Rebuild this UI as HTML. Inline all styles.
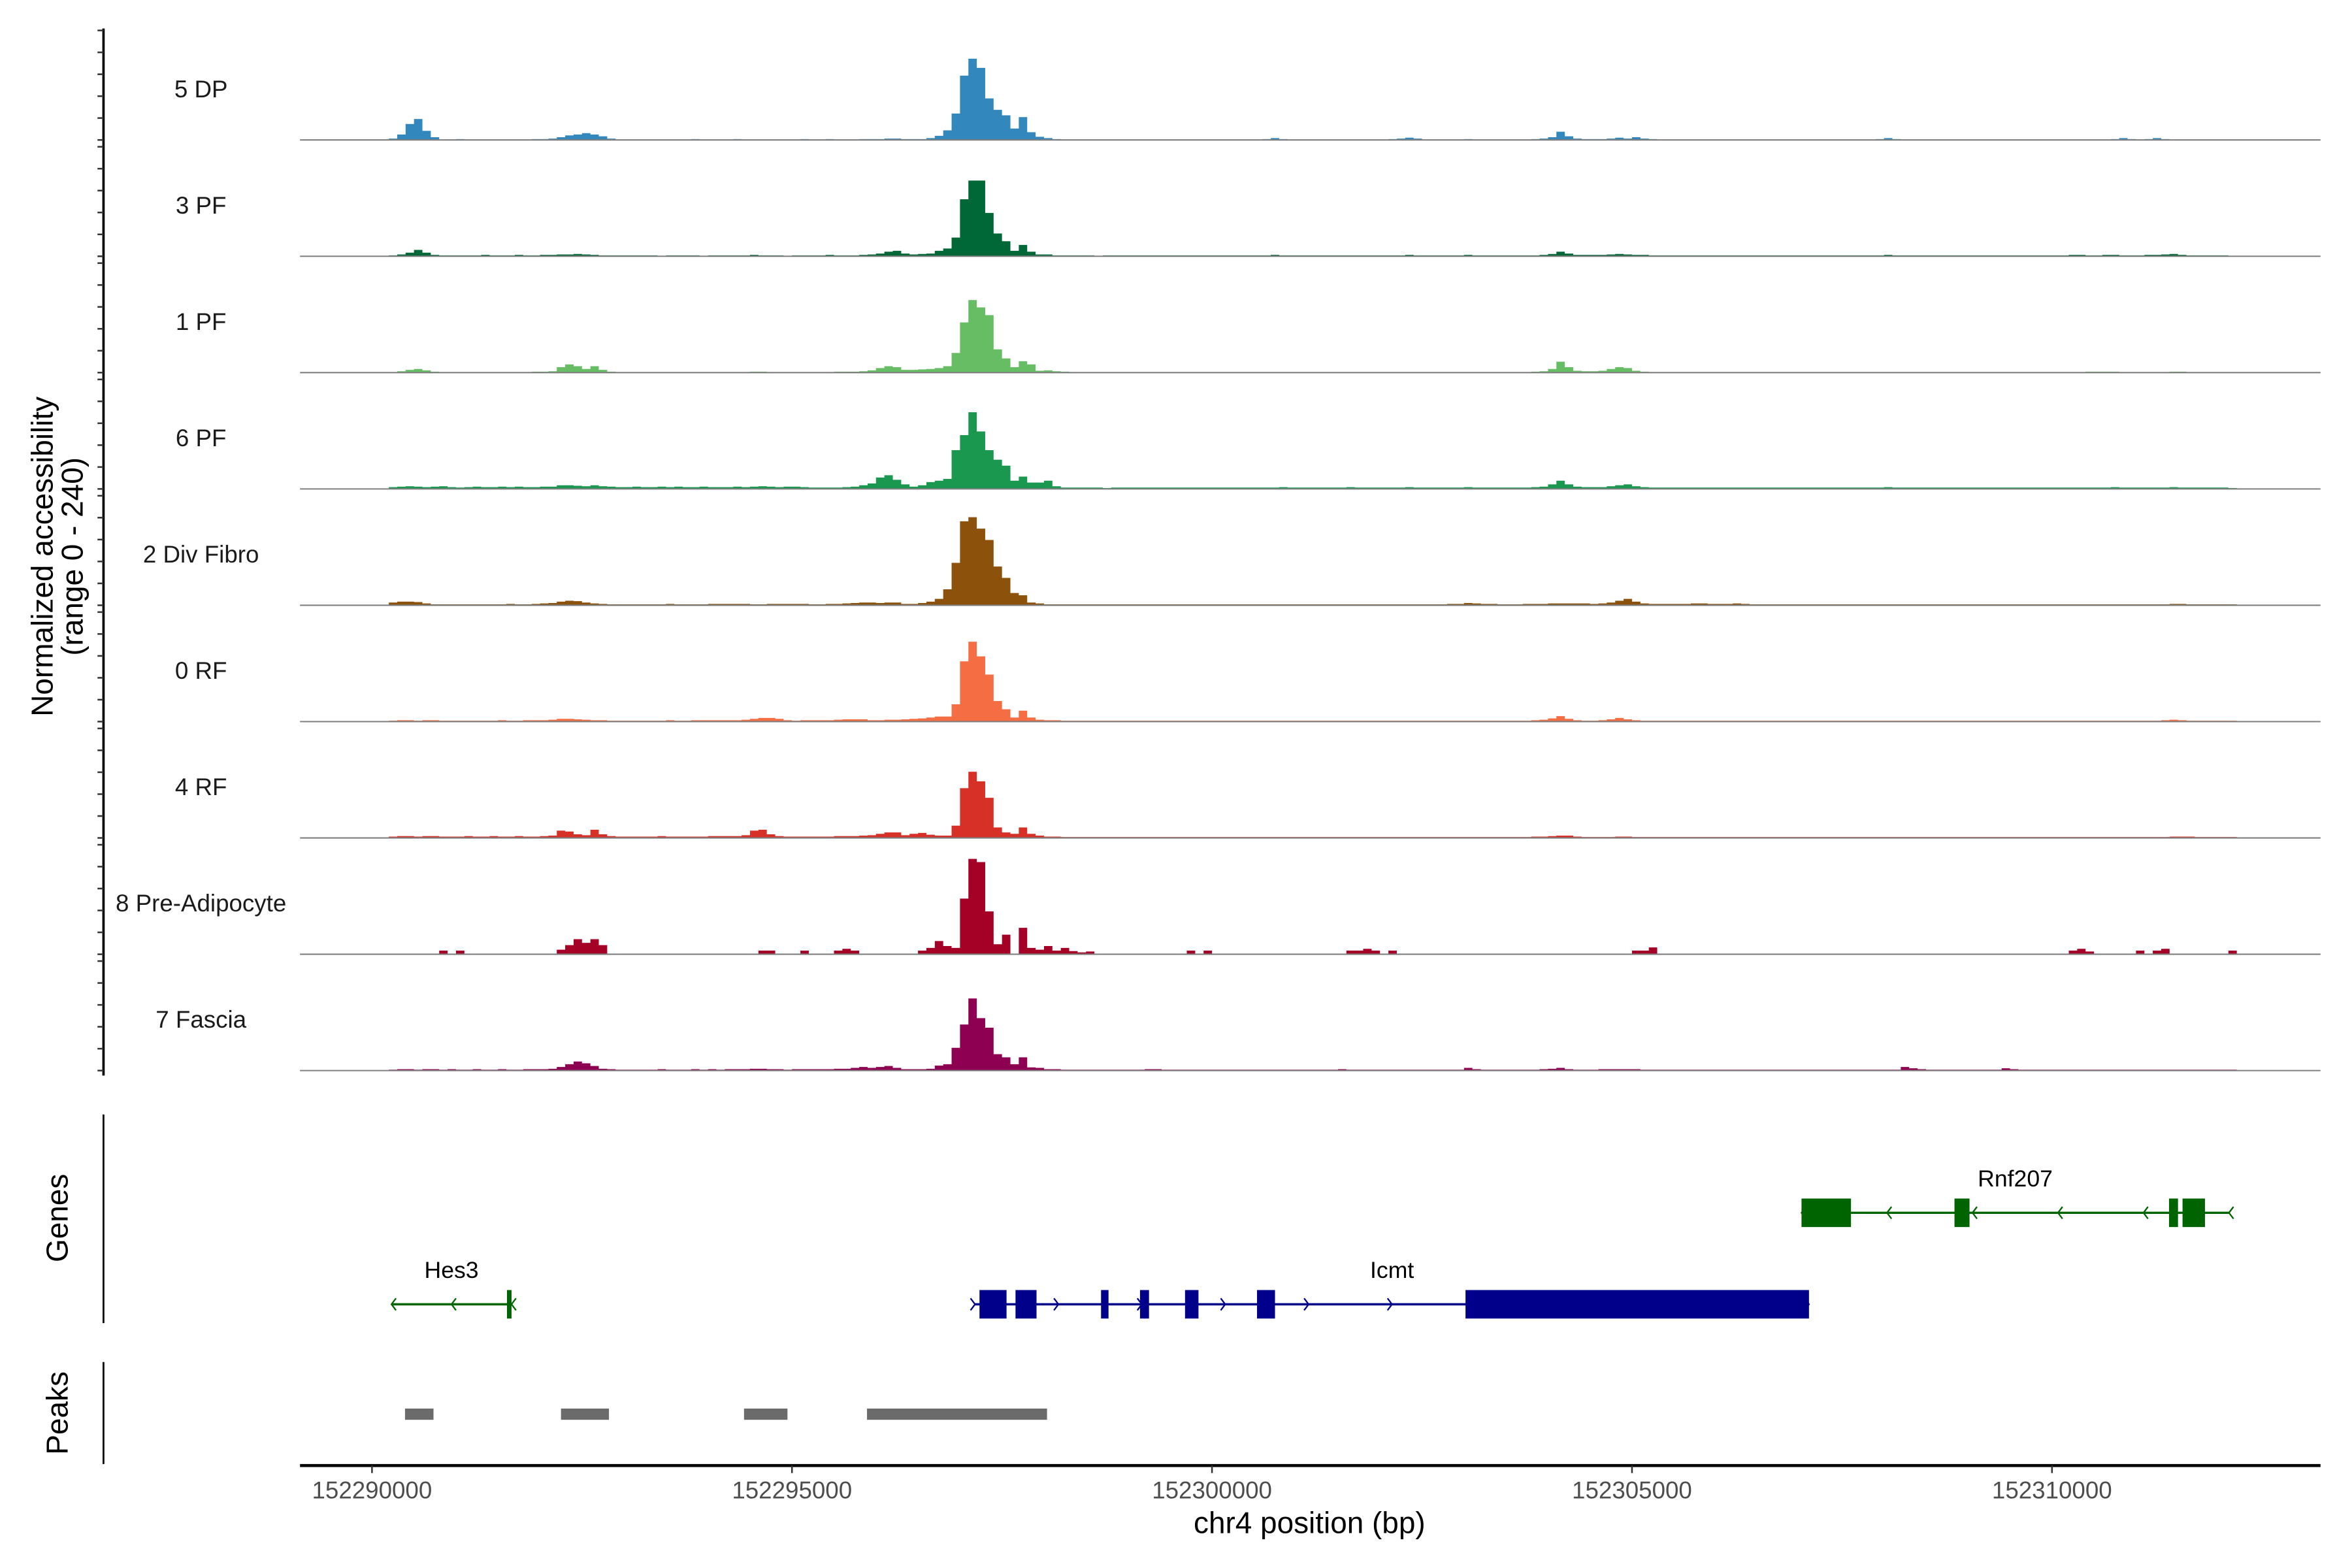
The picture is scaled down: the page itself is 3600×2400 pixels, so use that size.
<!DOCTYPE html>
<html><head><meta charset="utf-8"><style>
html,body{margin:0;padding:0;background:#fff;}
svg{display:block;}
text{font-family:"Liberation Sans",Arial,sans-serif;}
</style></head><body>
<svg id="chart" width="3600" height="2400" viewBox="0 0 1568 1045.3" preserveAspectRatio="none" xmlns="http://www.w3.org/2000/svg">
<rect x="0" y="0" width="1568" height="1046" fill="#fff"/>
<g id="tracks"></g>
<g id="yaxis"></g>
<text transform="translate(35,371) rotate(-90)" text-anchor="middle" font-size="20" fill="#000">Normalized accessibility</text>
<text transform="translate(55,371) rotate(-90)" text-anchor="middle" font-size="20" fill="#000">(range 0 - 240)</text>
<g id="genes"></g>
<line x1="69" y1="743" x2="69" y2="882" stroke="#000" stroke-width="1.2"/>
<text transform="translate(45,812) rotate(-90)" text-anchor="middle" font-size="20" fill="#000">Genes</text>
<g id="peaks"></g>
<line x1="69" y1="908" x2="69" y2="976" stroke="#000" stroke-width="1.2"/>
<text transform="translate(45,942) rotate(-90)" text-anchor="middle" font-size="20" fill="#000">Peaks</text>
<g id="xaxis"></g>
<text x="873" y="1022" text-anchor="middle" font-size="20" fill="#000">chr4 position (bp)</text>
</svg>
<script>
const trackNames = ["5 DP","3 PF","1 PF","6 PF","2 Div Fibro","0 RF","4 RF","8 Pre-Adipocyte","7 Fascia"];
const trackColors = ["#3288bd","#006837","#66bd63","#1a9850","#8c510a","#f46d43","#d73027","#a50026","#8e0152"];
const binStart = 152290200;
const binSize = 100;
const xTicks = [152290000,152295000,152300000,152305000,152310000];
const yMax = 240;

const covDP = [3,12,35,46,20,6,1,1,2,1, 1,1,1,0,1,1,1,2,2,3, 6,10,12,15,12,8,3,1,1,1, 1,1,1,0,1,1,2,1,1,1, 1,2,1,1,1,0,1,1,1,2, 1,1,2,1,1,1,2,2,2,3,
 3,2,2,2,4,9,21,58,141,178, 158,91,66,54,25,50,17,7,4,2, 1,1,1,1,1,1,1,0,1,1, 1,1,1,1,1,1,1,1,1,1, 1,1,1,1,2,4,2,1,1,1, 1,1,1,1,1,1,1,1,1,2,
 3,5,3,1,1,1,1,1,2,1, 1,1,1,1,1,1,2,3,6,18, 8,3,2,2,2,3,5,3,6,3, 2,1,1,1,1,1,1,1,1,1, 1,1,1,1,1,1,1,1,1,1, 1,1,1,1,1,1,1,2,4,2,
 1,1,1,1,1,1,1,1,1,1, 1,1,1,1,1,1,1,1,1,1, 1,1,1,1,1,2,4,2,1,2, 4,2,1,1,1,1,1,1,1,1];
const cov3PF = [2,4,8,14,8,3,2,2,2,2, 2,3,2,2,2,3,2,2,3,3, 4,4,5,4,3,2,2,2,2,2, 2,2,1,2,2,2,2,1,2,2, 2,2,2,3,2,2,2,1,2,2, 2,2,3,2,2,2,3,4,6,10,
 12,6,4,5,6,12,17,41,125,166, 166,95,50,33,12,25,10,4,4,2, 2,2,2,2,1,2,2,2,2,2, 2,2,2,2,2,2,2,2,2,2, 2,2,2,2,2,3,2,2,2,2, 2,2,2,2,2,2,2,2,2,2,
 2,3,2,2,2,2,2,2,3,2, 2,2,2,2,2,2,2,3,5,10, 6,3,3,3,3,4,5,4,3,3, 2,2,2,2,2,2,2,2,2,2, 2,2,2,2,2,2,2,2,2,2, 2,2,2,2,2,2,2,2,3,2,
 2,2,2,2,2,2,2,2,2,2, 2,2,2,2,2,2,2,2,2,2, 3,3,2,2,3,3,2,2,2,3, 3,4,5,3,2,2,2,2,2,1];
const cov1PF = [1,3,6,8,5,2,1,1,1,1, 1,1,1,1,1,1,1,2,2,3, 12,18,14,8,14,6,2,1,1,1, 1,1,1,1,1,1,1,1,1,1, 1,1,1,2,2,1,1,1,1,1, 1,1,1,2,2,2,3,5,10,14,
 12,6,6,7,8,10,14,43,110,159, 143,126,51,31,12,25,18,4,5,3, 2,1,1,1,1,1,1,1,1,1, 1,1,1,1,1,1,1,1,1,1, 1,1,1,1,1,1,1,1,1,1, 1,1,1,1,1,1,1,1,1,1,
 1,1,1,1,1,1,1,1,1,1, 1,1,1,1,1,1,2,3,8,24, 12,4,3,3,4,8,12,10,4,2, 1,1,1,1,1,1,1,1,1,1, 1,1,1,1,1,1,1,1,1,1, 1,1,1,1,1,1,1,1,1,1,
 1,1,1,1,1,1,1,1,1,1, 1,1,1,1,1,1,1,1,1,1, 1,1,2,2,2,2,1,1,1,1, 1,1,2,2,1,1,1,1,1,1];
const cov6PF = [4,5,6,5,4,5,6,4,3,4, 5,4,4,5,4,5,4,4,5,5, 8,8,7,6,8,6,5,4,4,5, 4,4,5,4,5,4,4,5,4,4, 4,5,4,5,6,5,4,5,5,4, 3,3,3,3,4,5,8,12,25,30,
 20,10,5,8,15,18,22,85,118,168, 126,85,64,51,18,27,14,14,18,6, 3,3,3,3,3,2,3,3,3,3, 3,3,3,3,3,3,3,3,3,3, 3,3,3,3,3,3,4,3,3,3, 3,3,3,3,4,3,3,3,3,3,
 3,4,3,3,3,3,3,3,4,3, 3,3,3,3,3,3,4,5,10,18, 10,5,4,4,4,6,8,10,6,4, 3,3,3,3,3,3,3,3,3,3, 3,3,3,3,3,3,3,3,3,3, 3,3,3,3,3,3,3,3,4,3,
 3,3,3,3,3,3,3,3,3,3, 3,3,3,3,3,3,3,3,3,3, 3,3,3,3,3,4,3,3,3,3, 3,3,4,3,3,3,3,3,3,2];
const covDiv = [6,8,8,7,4,2,2,2,2,2, 2,2,2,2,3,2,2,3,4,5, 8,10,9,6,4,3,2,2,2,2, 2,2,2,3,2,2,2,2,3,3, 3,3,3,2,2,3,3,3,3,3, 2,2,3,3,4,5,6,6,5,6,
 6,3,3,5,8,14,35,93,184,193, 168,143,85,60,27,22,6,4,2,2, 2,2,2,2,2,2,2,2,2,2, 2,2,2,2,2,2,2,2,2,2, 2,2,2,2,2,2,2,2,2,2, 2,2,2,2,2,2,2,2,2,2,
 2,2,2,2,2,2,3,3,5,4, 3,3,2,2,2,3,3,3,4,4, 4,4,4,3,4,6,10,14,8,4, 3,3,3,3,3,4,4,3,3,3, 4,3,2,2,2,2,2,2,2,2, 2,2,2,2,2,2,2,2,2,2,
 2,2,2,2,2,2,2,2,2,2, 2,2,2,2,2,2,2,2,2,2, 2,2,2,2,2,2,2,2,2,2, 2,2,3,3,2,2,2,2,2,2];
const cov0RF = [2,3,3,2,3,3,2,2,2,2, 2,2,2,3,2,2,3,3,3,4, 6,6,5,4,3,3,2,2,2,2, 2,2,2,3,2,2,3,3,3,3, 3,3,4,6,8,8,6,3,2,3, 3,3,3,4,5,5,5,3,3,4,
 4,5,6,7,9,11,11,38,132,175, 143,103,45,27,9,24,9,4,3,3, 2,2,2,2,2,2,2,2,2,2, 2,2,2,2,2,2,2,2,2,2, 2,2,2,2,2,2,2,2,2,2, 2,2,2,2,2,2,2,2,2,2,
 2,2,2,2,2,2,2,2,2,2, 2,2,2,2,2,2,3,4,7,12, 6,3,2,2,3,5,8,5,3,2, 2,2,2,2,2,2,2,2,2,2, 2,2,2,2,2,2,2,2,2,2, 2,2,2,2,2,2,2,2,2,2,
 2,2,2,2,2,2,2,2,2,2, 2,2,2,2,2,2,2,2,2,2, 2,2,2,2,2,2,2,2,2,2, 2,3,4,3,2,2,2,2,2,2];
const cov4RF = [3,4,4,3,4,4,3,3,3,4, 3,3,4,3,3,4,3,3,4,5, 16,14,8,6,18,8,4,3,3,3, 3,3,4,3,3,3,3,3,4,4, 4,4,6,16,18,8,4,3,3,3, 3,3,3,4,4,4,5,6,9,12,
 12,6,9,11,7,5,5,27,109,145, 124,88,23,12,9,23,9,5,3,3, 2,2,2,2,2,2,2,2,2,2, 2,2,2,2,2,2,2,2,2,2, 2,2,2,2,2,2,2,2,2,2, 2,2,2,2,2,2,2,2,2,2,
 2,2,2,2,2,2,2,2,2,2, 2,2,2,2,2,2,3,3,4,5, 5,3,2,2,2,2,3,3,2,2, 2,2,2,2,2,2,2,2,2,2, 2,2,2,2,2,2,2,2,2,2, 2,2,2,2,2,2,2,2,2,2,
 2,2,2,2,2,2,2,2,2,2, 2,2,2,2,2,2,2,2,2,2, 2,2,2,2,2,2,2,2,2,2, 2,2,3,3,3,2,2,2,2,2];
const covPreAd = [0,0,0,0,0,0,8,0,8,0, 0,0,0,0,0,0,0,0,0,0, 10,20,33,25,33,20,0,0,0,0, 0,0,0,0,0,0,0,0,0,0, 0,0,0,0,8,8,0,0,0,8, 0,0,0,8,12,8,0,0,0,0,
 0,0,0,8,14,29,18,14,122,209, 202,94,22,43,0,58,14,10,18,8, 14,7,4,6,0,0,0,0,0,0, 0,0,0,0,0,8,0,8,0,0, 0,0,0,0,0,0,0,0,0,0, 0,0,0,0,8,8,12,8,0,8,
 0,0,0,0,0,0,0,0,0,0, 0,0,0,0,0,0,0,0,0,0, 0,0,0,0,0,0,0,0,8,8, 15,0,0,0,0,0,0,0,0,0, 0,0,0,0,0,0,0,0,0,0, 0,0,0,0,0,0,0,0,0,0,
 0,0,0,0,0,0,0,0,0,0, 0,0,0,0,0,0,0,0,0,0, 8,12,6,0,0,0,0,0,8,0, 8,12,0,0,0,0,0,0,0,8];
const covFascia = [2,3,3,2,3,3,2,3,2,2, 3,2,2,3,2,2,3,3,3,4, 8,14,20,16,10,4,3,2,2,2, 2,2,3,2,2,2,3,2,3,2, 3,3,3,4,4,3,3,2,3,3, 3,3,3,4,4,6,8,6,8,10,
 6,3,3,3,4,11,14,50,101,158, 115,94,36,29,14,29,7,6,3,3, 2,2,2,2,2,2,2,2,2,2, 3,3,2,2,2,2,2,2,2,2, 2,2,2,2,2,2,2,2,2,2, 2,2,2,3,2,2,2,2,2,2,
 2,2,2,2,2,2,2,2,6,3, 2,2,2,2,2,2,2,3,4,6, 3,2,2,2,3,3,3,3,3,2, 2,2,2,2,2,2,2,2,2,2, 2,2,2,2,2,2,2,2,2,2, 2,2,2,2,2,2,2,2,2,2,
 8,5,3,2,2,2,2,2,2,2, 2,2,5,3,2,2,2,2,2,2, 2,2,2,2,2,2,2,2,2,2, 2,2,2,2,2,2,2,2,2,2];
const coverage = [covDP,cov3PF,cov1PF,cov6PF,covDiv,cov0RF,cov4RF,covPreAd,covFascia];

const geneNames = ["Rnf207","Hes3","Icmt"];
const geneStarts = [152307018,152290232,152297179];
const geneEnds = [152312107,152291661,152307107];
const geneStrand = ["-","-","+"];
const geneRow = [0,1,1];
const rnf207ExonStarts = [152307018,152308839,152311393,152311554];
const rnf207ExonEnds = [152307607,152309018,152311500,152311821];
const hes3ExonStarts = [152291607];
const hes3ExonEnds = [152291661];
const icmtExonStarts = [152297232,152297661,152298679,152299143,152299679,152300536,152303018];
const icmtExonEnds = [152297554,152297911,152298768,152299250,152299839,152300750,152307107];
const geneExonStarts = [rnf207ExonStarts,hes3ExonStarts,icmtExonStarts];
const geneExonEnds = [rnf207ExonEnds,hes3ExonEnds,icmtExonEnds];
const peakStarts = [152290393,152292250,152294429,152295893];
const peakEnds = [152290732,152292821,152294946,152298036];

const NS = "http://www.w3.org/2000/svg";
const xScale = bp => 248 + (bp - 152290000) * 0.056;
const baseline0 = 93.3, trackStep = 77.55, trackH = 73;
const yScale = (v, i) => baseline0 + i * trackStep - v / yMax * trackH;
function mk(tag, attrs, parent) { const e = document.createElementNS(NS, tag); for (const k in attrs) e.setAttribute(k, attrs[k]); parent.appendChild(e); return e; }

const gT = document.getElementById('tracks');
coverage.forEach((arr, i) => {
  const base = yScale(0, i);
  let d = "M" + xScale(binStart).toFixed(2) + "," + base;
  arr.forEach((v, j) => {
    const x0 = xScale(binStart + j * binSize), x1 = xScale(binStart + (j + 1) * binSize);
    const y = yScale(v, i).toFixed(2);
    d += "L" + x0.toFixed(2) + "," + y + "L" + x1.toFixed(2) + "," + y;
  });
  d += "L" + xScale(binStart + arr.length * binSize).toFixed(2) + "," + base + "Z";
  const p = mk('path', {d: d, fill: trackColors[i], stroke: 'none'}, gT);
  
  
  const bl = mk('line', {x1: 200, x2: 1547, y1: base, y2: base, stroke: '#7f7f7f', 'stroke-width': 0.9}, gT);
  
  
  const t = mk('text', {x: 134, y: base - 28.5, 'text-anchor': 'middle', 'font-size': 16, fill: '#1a1a1a'}, gT);
  t.textContent = trackNames[i];
  
  
});

const gY = document.getElementById('yaxis');
const yl = mk('line', {x1: 69, x2: 69, y1: 19, y2: 717, stroke: '#000', 'stroke-width': 1.6}, gY);


coverage.forEach((arr, i) => {
  for (let k = 0; k <= 5; k++) {
    const y = yScale(yMax - k * yMax / 5, i);
    const tk = mk('line', {x1: 65, x2: 69, y1: y, y2: y, stroke: '#333', 'stroke-width': 1.1}, gY);
    
    
  }
});

const gG = document.getElementById('genes');
const rowY = [808.5, 869.5];
geneNames.forEach((name, g) => {
  const col = geneStrand[g] === "-" ? "#006400" : "#00008b";
  const y = rowY[geneRow[g]];
  const x0 = xScale(geneStarts[g]), x1 = xScale(geneEnds[g]);
  const ln = mk('line', {x1: x0, x2: x1, y1: y, y2: y, stroke: col, 'stroke-width': 1.5}, gG);
  
  
  geneExonStarts[g].forEach((s, e) => {
    const ex0 = xScale(s), ex1 = xScale(geneExonEnds[g][e]);
    const r = mk('rect', {x: ex0, y: y - 9.5, width: Math.max(ex1 - ex0, 2.5), height: 19, fill: col}, gG);
    
    
  });
  const n = Math.max(2, Math.round((x1 - x0) / 56));
  for (let k = 0; k <= n; k++) {
    const ax = x0 + (x1 - x0) * k / n;
    const dir = geneStrand[g] === "-" ? 1 : -1;
    const a = mk('path', {d: `M${ax + 3 * dir},${y - 4}L${ax},${y}L${ax + 3 * dir},${y + 4}`, fill: 'none', stroke: col, 'stroke-width': 1}, gG);
    
    
  }
  const t = mk('text', {x: (x0 + x1) / 2, y: y - 17.5, 'text-anchor': 'middle', 'font-size': 15.5, fill: '#000'}, gG);
  t.textContent = name;
  
  
});

const gP = document.getElementById('peaks');
peakStarts.forEach((s, i) => {
  const r = mk('rect', {x: xScale(s), y: 939, width: xScale(peakEnds[i]) - xScale(s), height: 7.5, fill: '#6b6b6b'}, gP);
  
  
});

const gX = document.getElementById('xaxis');
const xl = mk('line', {x1: 200, x2: 1547, y1: 977, y2: 977, stroke: '#000', 'stroke-width': 2}, gX);


xTicks.forEach(v => {
  const x = xScale(v);
  const tk = mk('line', {x1: x, x2: x, y1: 977, y2: 982, stroke: '#333', 'stroke-width': 1.1}, gX);
  
  
  const t = mk('text', {x: x, y: 999, 'text-anchor': 'middle', 'font-size': 16, fill: '#4d4d4d'}, gX);
  t.textContent = String(v);
  
  
});
</script>
</body></html>
